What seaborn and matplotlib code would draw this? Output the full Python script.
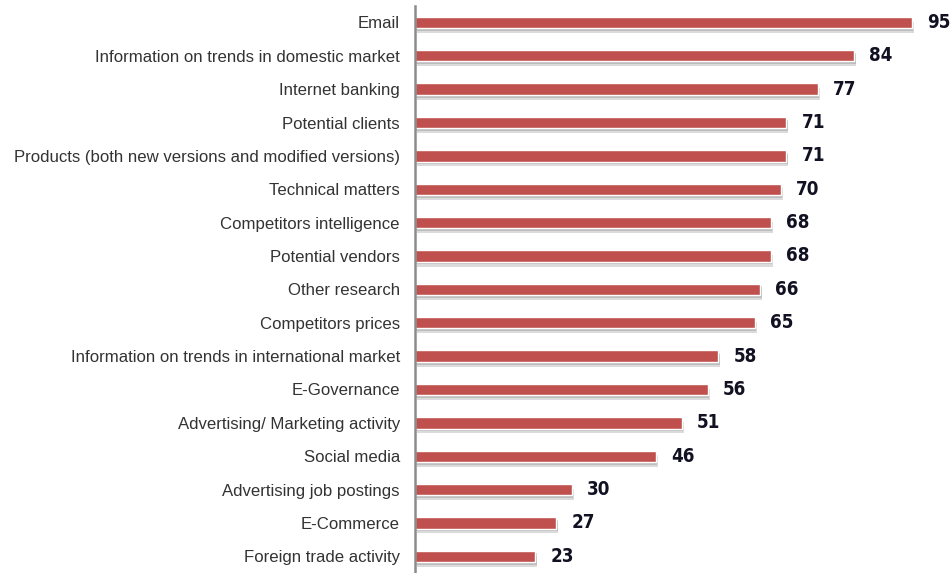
import matplotlib
matplotlib.use("Agg")
import matplotlib.pyplot as plt
import matplotlib.patheffects as pe
import seaborn as sns
import pandas as pd

categories = [
    "Email",
    "Information on trends in domestic market",
    "Internet banking",
    "Potential clients",
    "Products (both new versions and modified versions)",
    "Technical matters",
    "Competitors intelligence",
    "Potential vendors",
    "Other research",
    "Competitors prices",
    "Information on trends in international market",
    "E-Governance",
    "Advertising/ Marketing activity",
    "Social media",
    "Advertising job postings",
    "E-Commerce",
    "Foreign trade activity",
]
values = [95, 84, 77, 71, 71, 70, 68, 68, 66, 65, 58, 56, 51, 46, 30, 27, 23]

df = pd.DataFrame({"cat": categories, "val": values})

sns.set_style("white")
plt.rcParams['font.family'] = ['Liberation Sans', 'DejaVu Sans']

fig = plt.figure(figsize=(9.52, 5.73), dpi=100)
ax = fig.add_axes([0.436, 0.0, 0.564, 0.99])

sns.barplot(data=df, x="val", y="cat", orient="h", color="#C0504D",
            saturation=1, width=0.34, ax=ax)
for p in ax.patches:
    p.set_path_effects([
        pe.SimplePatchShadow(offset=(1.5, -3.5), shadow_rgbFace="#B0B0B0", alpha=0.45),
        pe.SimplePatchShadow(offset=(1.0, -2.0), shadow_rgbFace="#A0A0A0", alpha=0.5),
        pe.Normal()])

ax.set_xlim(0, 102.7)
ax.set_ylim(16.5, -0.5)
ax.set_xlabel("")
ax.set_ylabel("")
ax.set_xticks([])
for s in ["top", "right", "bottom"]:
    ax.spines[s].set_visible(False)
ax.spines["left"].set_color("#8C8C8C")
ax.spines["left"].set_linewidth(1.8)
ax.tick_params(axis="y", length=0, pad=11, labelsize=12.1, labelcolor="#333333")

for i, v in enumerate(values):
    ax.text(v + 2.9, i, str(v), va="center", ha="left", fontsize=13.5,
            fontweight="bold", family="DejaVu Sans", fontstretch="condensed",
            color="#111122")

fig.savefig("out.png", dpi=100)
